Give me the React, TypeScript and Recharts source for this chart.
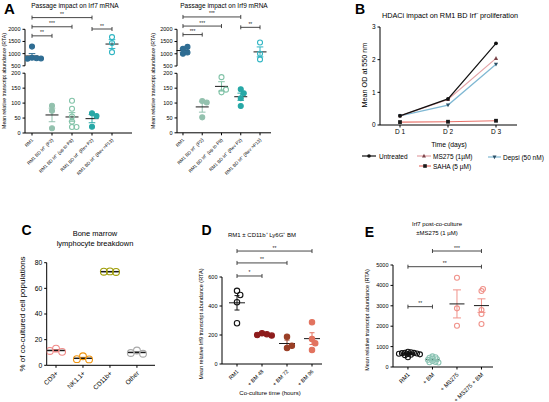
import React from 'react'
import { ScatterChart, Scatter, XAxis, YAxis, ReferenceLine, LineChart, Line } from 'recharts'

const FONT = 'Arial, "Liberation Sans", Helvetica, sans-serif'

// A – passage impact on Irf7 / Irf9 mRNA
const passageGroups = ['RM1', 'RM1 BD Irf⁻ (P2)', 'RM1 BD Irf⁻ (up to P8)', 'RM1 BD Irf⁻ (Rev P2)', 'RM1 BD Irf⁻ (Rev >P13)']
const irf7Rm1 = [1290, 830, 810, 790, 800]
const irf7P2 = [91, 74, 16]
const irf7P8 = [108, 81, 55, 38, 20, 20]
const irf7RevP2 = [66, 57, 21]
const irf7RevP13 = [1680, 1440, 1060]
const irf9Rm1 = [1000, 1050, 1200, 1280]
const irf9P2 = [107, 102, 52]
const irf9P8 = [187, 136, 145]
const irf9RevP2 = [146, 133, 116, 90]
const irf9RevP13 = [1460, 1000, 770]

// B – HDACi proliferation
const days = ['D 1', 'D 2', 'D 3']
const odUntreated = [0.28, 0.8, 2.5]
const odMs275 = [0.28, 0.78, 2.04]
const odSaha = [0.09, 0.1, 0.13]
const odDepsi = [0.28, 0.61, 1.86]

// C – bone marrow breakdown
const cellTypes = ['CD3+', 'NK1.1+', 'CD11b+', 'Other']
const pctCd3 = [13, 10.5, 11.2]
const pctNk = [7, 4.6, 4.8]
const pctCd11b = [73.2, 72.8, 73]
const pctOther = [11.5, 9, 9.6]

// D – Irf9 after co-culture
const coCultureGroups = ['RM1', '+ BM 48', '+ BM 72', '+ BM 96']
const irf9Rm1Co = [505, 476, 426, 281]
const irf9Bm48 = [212, 205, 200, 196]
const irf9Bm72 = [188, 110, 126]
const irf9Bm96 = [288, 172, 143, 97]

// E – Irf7 post co-culture ±MS275
const ms275Groups = ['RM1', '+ BM', '+ MS275', '+ MS275 + BM']
const irf7Rm1Co = [750, 720, 700, 690, 680, 660, 650, 640, 620, 600, 580, 480]
const irf7Bm = [520, 480, 450, 410, 380, 350, 300, 250, 230, 220]
const irf7Ms275 = [4377, 2876, 2025]
const irf7Ms275Bm = [3725, 3824, 2794, 2598, 2108]

type Group = { values: number[]; color: string; filled?: boolean }
type Bracket = { from: number; to: number; y: number; stars: string }

const mean = (v: number[]) => v.reduce((a, b) => a + b, 0) / v.length
const sem = (v: number[]) => {
  const m = mean(v)
  const sd = Math.sqrt(v.reduce((a, b) => a + (b - m) ** 2, 0) / (v.length - 1))
  return sd / Math.sqrt(v.length)
}

// simple beeswarm: spread overlapping points sideways (returns offsets in category units)
function swarm(vals: number[], yPx: number, xPx: number, r: number, pack: number) {
  const placed: { dx: number; py: number }[] = []
  const minD = 2 * r * pack
  const step = r * 0.6
  return vals.map((v) => {
    const py = v * yPx
    let dx = 0
    for (let k = 0; k < 60; k++) {
      const cand = k === 0 ? 0 : (k % 2 ? 1 : -1) * Math.ceil(k / 2) * step
      if (placed.every((p) => (p.dx - cand) ** 2 + (p.py - py) ** 2 >= minD * minD)) {
        dx = cand
        break
      }
    }
    placed.push({ dx, py })
    return dx / xPx
  })
}

function RotTick({ x, y, payload, labels, fs }: any) {
  return (
    <text x={x} y={y} transform={`rotate(-45 ${x} ${y})`} textAnchor="end" fontSize={fs} fontFamily={FONT} fill="#000" dx={-1} dy={fs * 0.7}>
      {labels[Math.round(payload.value)]}
    </text>
  )
}

interface DotPlotProps {
  box: [number, number, number, number]
  plot: [number, number, number, number]
  yDomain: [number, number]
  yTicks: number[]
  xDomain: [number, number]
  categories: string[]
  groups: Group[]
  showX?: boolean
  r: number
  pack?: number
  tickSize: number
  catSize: number
  brackets?: Bracket[]
  meanHalf: number
  capHalf: number
  meanStroke?: number
}

function DotPlot(props: DotPlotProps) {
  const { box, plot, yDomain, yTicks, xDomain, categories, groups, showX = true, r, pack = 0.9, tickSize, catSize, brackets = [], meanHalf, capHalf, meanStroke = 1 } = props
  const [left, top, width, height] = box
  const [x0, y0, x1, y1] = plot
  const yPx = (y1 - y0) / (yDomain[1] - yDomain[0])
  const xPx = (x1 - x0) / (xDomain[1] - xDomain[0])
  const inside = (v: number) => v >= yDomain[0] && v <= yDomain[1]
  const bottomSpace = top + height - y1
  return (
    <div style={{ position: 'absolute', left, top }}>
      <ScatterChart width={width} height={height} margin={{ top: y0 - top, right: left + width - x1, bottom: showX ? 0 : bottomSpace, left: 0 }}>
        <XAxis
          type="number"
          dataKey="x"
          domain={xDomain}
          allowDataOverflow
          ticks={categories.map((_, i) => i)}
          interval={0}
          hide={!showX}
          height={bottomSpace}
          tickSize={2.5}
          stroke="#000"
          tick={(p: any) => <RotTick key={p.index} {...p} labels={categories} fs={catSize} />}
        />
        <YAxis
          type="number"
          dataKey="y"
          domain={yDomain}
          allowDataOverflow
          ticks={yTicks}
          interval={0}
          width={x0 - left}
          tickSize={2.5}
          stroke="#000"
          tick={{ fontSize: tickSize, fill: '#000', fontFamily: FONT }}
        />
        {groups.map((g, gi) => {
          const vals = g.values.filter(inside)
          if (!vals.length) return null
          const offs = swarm(vals, yPx, xPx, r, pack)
          const data = vals.map((v, k) => ({ x: gi + offs[k], y: v }))
          return (
            <Scatter
              key={`s${gi}`}
              data={data}
              isAnimationActive={false}
              shape={(p: any) => <circle cx={p.cx} cy={p.cy} r={r} fill={g.filled ? g.color : 'none'} stroke={g.color} strokeWidth={1.1} />}
            />
          )
        })}
        {groups.map((g, gi) => {
          const m = mean(g.values)
          if (!inside(m)) return null
          const s = sem(g.values)
          const hw = meanHalf / xPx
          return [
            <ReferenceLine
              key={`e${gi}`}
              segment={[{ x: gi, y: m - s }, { x: gi, y: m + s }]}
              ifOverflow="visible"
              shape={(p: any) => (
                <path
                  d={`M${p.x1 - capHalf},${p.y1}H${p.x1 + capHalf}M${p.x1},${p.y1}V${p.y2}M${p.x2 - capHalf},${p.y2}H${p.x2 + capHalf}`}
                  stroke={g.color}
                  strokeWidth={1}
                  fill="none"
                />
              )}
            />,
            <ReferenceLine key={`m${gi}`} segment={[{ x: gi - hw, y: m }, { x: gi + hw, y: m }]} ifOverflow="visible" stroke="#1a1a1a" strokeWidth={meanStroke} />,
          ]
        })}
        {brackets.map((b, bi) => (
          <ReferenceLine
            key={`b${bi}`}
            segment={[{ x: b.from, y: b.y }, { x: b.to, y: b.y }]}
            ifOverflow="visible"
            shape={(p: any) => (
              <path d={`M${p.x1},${p.y1 - 2}V${p.y1 + 2}M${p.x1},${p.y1}H${p.x2}M${p.x2},${p.y2 - 2}V${p.y2 + 2}`} stroke="#333" strokeWidth={0.9} fill="none" />
            )}
            label={{ value: b.stars, position: 'top', offset: 1.5, fontSize: 5, fill: '#222', fontFamily: FONT }}
          />
        ))}
      </ScatterChart>
    </div>
  )
}

function Marker({ kind, cx, cy, color, s = 2 }: { kind: string; cx: number; cy: number; color: string; s?: number }) {
  if (kind === 'circle') return <circle cx={cx} cy={cy} r={s} fill={color} />
  if (kind === 'square') return <rect x={cx - s} y={cy - s} width={2 * s} height={2 * s} fill={color} />
  if (kind === 'triangle') return <path d={`M${cx},${cy - s * 1.2}L${cx + s * 1.1},${cy + s * 0.8}L${cx - s * 1.1},${cy + s * 0.8}Z`} fill={color} />
  return <path d={`M${cx},${cy + s * 1.2}L${cx + s * 1.1},${cy - s * 0.8}L${cx - s * 1.1},${cy - s * 0.8}Z`} fill={color} />
}

function Label({ x, y, size, text, bold = false, rot = false, anchor = 'middle' }: any) {
  return (
    <text
      x={x}
      y={y}
      fontSize={size}
      fontWeight={bold ? 700 : 400}
      textAnchor={anchor}
      dominantBaseline="central"
      transform={rot ? `rotate(-90 ${x} ${y})` : undefined}
      fontFamily={FONT}
      fill="#000"
    >
      {text}
    </text>
  )
}

const hdacSeries = [
  { key: 'saha', name: 'SAHA (5 µM)', line: '#e8726a', dot: '#1a1a1a', kind: 'square' },
  { key: 'depsi', name: 'Depsi (50 nM)', line: '#7fb8d3', dot: '#2b4f66', kind: 'invtri' },
  { key: 'ms275', name: 'MS275 (1µM)', line: '#e3a2a6', dot: '#7a444a', kind: 'triangle' },
  { key: 'untreated', name: 'Untreated', line: '#111111', dot: '#111111', kind: 'circle' },
]

export default function App() {
  const irf7Groups: Group[] = [
    { values: irf7Rm1, color: '#2f6d93', filled: true },
    { values: irf7P2, color: '#93c1ae', filled: true },
    { values: irf7P8, color: '#82c3a8' },
    { values: irf7RevP2, color: '#27a8a6', filled: true },
    { values: irf7RevP13, color: '#2fb5c3' },
  ]
  const irf9Groups: Group[] = [
    { values: irf9Rm1, color: '#2f6d93', filled: true },
    { values: irf9P2, color: '#93c1ae', filled: true },
    { values: irf9P8, color: '#82c3a8' },
    { values: irf9RevP2, color: '#27a8a6', filled: true },
    { values: irf9RevP13, color: '#2fb5c3' },
  ]
  const cGroups: Group[] = [
    { values: pctCd3, color: '#f08a88' },
    { values: pctNk, color: '#f0940e' },
    { values: pctCd11b, color: '#9e9c06' },
    { values: pctOther, color: '#a9a9a9' },
  ]
  const dGroups: Group[] = [
    { values: irf9Rm1Co, color: '#111111' },
    { values: irf9Bm48, color: '#8e1c1c', filled: true },
    { values: irf9Bm72, color: '#9a3f26', filled: true },
    { values: irf9Bm96, color: '#e2735f', filled: true },
  ]
  const eGroups: Group[] = [
    { values: irf7Rm1Co, color: '#111111' },
    { values: irf7Bm, color: '#8cc4b4' },
    { values: irf7Ms275, color: '#f0928a' },
    { values: irf7Ms275Bm, color: '#f0928a' },
  ]
  const bData = days.map((d, i) => ({ day: d, untreated: odUntreated[i], ms275: odMs275[i], saha: odSaha[i], depsi: odDepsi[i] }))

  const aUpper = { yDomain: [500, 2000] as [number, number], yTicks: [500, 1000, 1500, 2000] }
  const aLower = { yDomain: [0, 200] as [number, number], yTicks: [0, 50, 100, 150, 200] }

  return (
    <div style={{ position: 'absolute', left: 0, top: 0, width: 549, height: 402, background: '#fff', fontFamily: FONT }}>
      {/* A – Irf7 */}
      <DotPlot
        box={[2, 8, 136, 62]}
        plot={[25, 29.3, 132, 65.8]}
        {...aUpper}
        xDomain={[-0.35, 5]}
        categories={passageGroups}
        groups={irf7Groups}
        showX={false}
        r={2.5}
        tickSize={5.5}
        catSize={4.6}
        meanHalf={6.5}
        capHalf={3.3}
        brackets={[
          { from: 0, to: 3, y: 2481, stars: '**' },
          { from: 0, to: 2, y: 2104, stars: '***' },
          { from: 0, to: 1, y: 1731, stars: '**' },
          { from: 3, to: 4, y: 2012, stars: '**' },
        ]}
      />
      <DotPlot
        box={[2, 68, 136, 132]}
        plot={[25, 73.2, 132, 133]}
        {...aLower}
        xDomain={[-0.35, 5]}
        categories={passageGroups}
        groups={irf7Groups}
        r={2.5}
        tickSize={5.5}
        catSize={4.6}
        meanHalf={6.5}
        capHalf={3.3}
      />
      {/* A – Irf9 */}
      <DotPlot
        box={[155, 8, 122, 62]}
        plot={[177, 29.3, 271, 66]}
        {...aUpper}
        xDomain={[-0.31, 4.57]}
        categories={passageGroups}
        groups={irf9Groups}
        showX={false}
        r={2.5}
        tickSize={5.5}
        catSize={4.6}
        meanHalf={6.5}
        capHalf={3.3}
        brackets={[
          { from: 0, to: 3, y: 2505, stars: '***' },
          { from: 0, to: 2, y: 2132, stars: '***' },
          { from: 0, to: 1, y: 1783, stars: '***' },
          { from: 3, to: 4, y: 2080, stars: '**' },
        ]}
      />
      <DotPlot
        box={[155, 68, 122, 132]}
        plot={[177, 73.3, 271, 132.8]}
        {...aLower}
        xDomain={[-0.31, 4.57]}
        categories={passageGroups}
        groups={irf9Groups}
        r={2.5}
        tickSize={5.5}
        catSize={4.6}
        meanHalf={6.5}
        capHalf={3.3}
      />

      {/* B – HDACi proliferation */}
      <div style={{ position: 'absolute', left: 365, top: 20 }}>
        <LineChart width={170} height={120} data={bData} margin={{ top: 7, right: 18, bottom: 0, left: 0 }}>
          <XAxis dataKey="day" padding={{ left: 20, right: 21 }} height={15} tickSize={2.5} stroke="#000" interval={0} tick={{ fontSize: 6.5, fill: '#000', fontFamily: FONT }} />
          <YAxis domain={[0, 3]} ticks={[0, 1, 2, 3]} interval={0} width={15} tickSize={2.5} stroke="#000" tick={{ fontSize: 6.5, fill: '#000', fontFamily: FONT }} />
          {hdacSeries.map((s) => (
            <Line
              key={s.key}
              dataKey={s.key}
              name={s.name}
              stroke={s.line}
              strokeWidth={1.2}
              isAnimationActive={false}
              dot={(p: any) => <Marker key={`${s.key}${p.index}`} kind={s.kind} cx={p.cx} cy={p.cy} color={s.dot} s={1.9} />}
            />
          ))}
        </LineChart>
      </div>

      {/* C – bone marrow */}
      <DotPlot
        box={[28, 255, 132, 140]}
        plot={[46.7, 262.7, 155, 365.3]}
        yDomain={[0, 80]}
        yTicks={[0, 20, 40, 60, 80]}
        xDomain={[-0.345, 3.67]}
        categories={cellTypes}
        groups={cGroups}
        r={3.4}
        pack={0.8}
        tickSize={6.8}
        catSize={6.5}
        meanHalf={9}
        capHalf={3}
        meanStroke={1.5}
      />

      {/* D – co-culture Irf9 */}
      <DotPlot
        box={[205, 240, 122, 148]}
        plot={[222, 277, 322, 364]}
        yDomain={[0, 600]}
        yTicks={[0, 200, 400, 600]}
        xDomain={[-0.6, 3.4]}
        categories={coCultureGroups}
        groups={dGroups}
        r={2.7}
        tickSize={5.5}
        catSize={5.4}
        meanHalf={8}
        capHalf={2.5}
        brackets={[
          { from: 0, to: 1, y: 607, stars: '*' },
          { from: 0, to: 2, y: 697, stars: '**' },
          { from: 0, to: 3, y: 779, stars: '**' },
        ]}
      />

      {/* E – Irf7 ±MS275 */}
      <DotPlot
        box={[372, 240, 129, 162]}
        plot={[393, 265, 493, 367]}
        yDomain={[0, 5000]}
        yTicks={[0, 1000, 2000, 3000, 4000, 5000]}
        xDomain={[-0.61, 3.47]}
        categories={ms275Groups}
        groups={eGroups}
        r={2.5}
        pack={0.42}
        tickSize={5.5}
        catSize={5.8}
        meanHalf={7.5}
        capHalf={4}
        brackets={[
          { from: 1, to: 3, y: 5686, stars: '***' },
          { from: 0, to: 3, y: 4917, stars: '**' },
          { from: 0, to: 1, y: 2958, stars: '**' },
        ]}
      />

      {/* text overlay */}
      <svg width={549} height={402} style={{ position: 'absolute', left: 0, top: 0, pointerEvents: 'none' }}>
        <Label x={9.5} y={8} size={15} bold text="A" />
        <Label x={75} y={5.5} size={6.5} text="Passage impact on Irf7 mRNA" />
        <Label x={224} y={5.5} size={6.5} text="Passage impact on Irf9 mRNA" />
        <Label x={3.8} y={81} size={5.2} rot text="Mean relative transcript abundance (RTA)" />
        <Label x={152.5} y={81} size={5.2} rot text="Mean relative transcript abundance (RTA)" />

        <Label x={360} y={9} size={14} bold text="B" />
        <Label x={450} y={15} size={7.3} text="HDACi impact on RM1 BD Irf⁻ proliferation" />
        <Label x={364} y={75} size={7.2} rot text="Mean OD at 550 nm" />
        <Label x={449} y={144} size={6.8} text="Time (days)" />
        <line x1={362} y1={156} x2={376} y2={156} stroke="#111" strokeWidth={1.2} />
        <Marker kind="circle" cx={369} cy={156} color="#111" s={1.8} />
        <Label x={379} y={156} size={6.5} anchor="start" text="Untreated" />
        <line x1={417} y1={156} x2={431} y2={156} stroke="#e3a2a6" strokeWidth={1.2} />
        <Marker kind="triangle" cx={424} cy={156} color="#7a444a" s={1.8} />
        <Label x={433} y={156} size={6.5} anchor="start" text="MS275 (1µM)" />
        <line x1={488} y1={157} x2={501} y2={157} stroke="#7fb8d3" strokeWidth={1.2} />
        <Marker kind="invtri" cx={494.5} cy={157} color="#2b4f66" s={1.8} />
        <Label x={503} y={157} size={6.5} anchor="start" text="Depsi (50 nM)" />
        <line x1={419} y1={166} x2={431} y2={166} stroke="#e8726a" strokeWidth={1.2} />
        <Marker kind="square" cx={425} cy={166} color="#1a1a1a" s={1.8} />
        <Label x={433} y={166} size={6.5} anchor="start" text="SAHA (5 µM)" />

        <Label x={26.5} y={230} size={14} bold text="C" />
        <Label x={95} y={233} size={7.5} text="Bone marrow" />
        <Label x={95} y={243} size={7.5} text="lymphocyte breakdown" />
        <Label x={22} y={314} size={8} rot text="% of co-cultured cell populations" />

        <Label x={206.5} y={230} size={14} bold text="D" />
        <Label x={262} y={235} size={6} text="RM1 ± CD11b⁺ Ly6G⁺ BM" />
        <Label x={201} y={324} size={5.5} rot text="Mean relative Irf9 transcript abundance (RTA)" />
        <Label x={270} y={393} size={6} text="Co-culture time (hours)" />

        <Label x={369.5} y={232} size={14} bold text="E" />
        <Label x={437} y={224} size={6} text="Irf7 post-co-culture" />
        <Label x={437} y={233} size={6} text="±MS275 (1 µM)" />
        <Label x={367} y={320} size={5.5} rot text="Mean relative transcript abundance (RTA)" />
      </svg>
    </div>
  )
}
